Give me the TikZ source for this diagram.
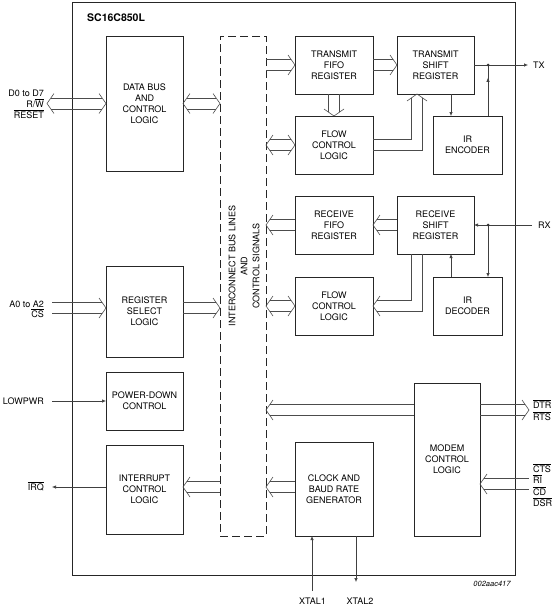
\documentclass[tikz,border=0pt]{standalone}
\usepackage{fontspec}
\setmainfont{TeX Gyre Heros}
\usetikzlibrary{calc,positioning,arrows.meta}
\tikzset{
  block/.style={rectangle, draw=black!85, line width=0.9pt, outer sep=0pt, inner sep=1pt,
                align=center, font=\fontsize{9}{11}\selectfont},
  busbox/.style={block, dash pattern=on 8pt off 4pt},
  bus/.style={draw=black!70, line width=0.6pt},
  sig/.style={draw=black!75, line width=0.6pt, -{Latex[length=4pt,width=3.4pt]}},
  wire/.style={draw=black!75, line width=0.6pt},
  lbl/.style={font=\fontsize{9}{11}\selectfont, inner sep=0pt},
  dot/.style={circle, fill=black!80, inner sep=0pt, minimum size=3pt}
}
\newcommand\ovl[1]{$\overline{\mbox{#1}}$}
% hollow heads of the bus arrows
\newcommand\headE[1]{\draw[bus] ([xshift=-7pt,yshift=10pt]#1) -- (#1) -- ([xshift=-7pt,yshift=-10pt]#1);}
\newcommand\headW[1]{\draw[bus] ([xshift=7pt,yshift=10pt]#1) -- (#1) -- ([xshift=7pt,yshift=-10pt]#1);}
\newcommand\headN[1]{\draw[bus] ([xshift=-10pt,yshift=-7pt]#1) -- (#1) -- ([xshift=10pt,yshift=-7pt]#1);}
\newcommand\headS[1]{\draw[bus] ([xshift=-10pt,yshift=7pt]#1) -- (#1) -- ([xshift=10pt,yshift=7pt]#1);}
% bus shaft, left point first
\newcommand\shaftH[4]{\draw[bus] ([xshift=#3,yshift=5.5pt]#1) -- ([xshift=-#4,yshift=5.5pt]#2)
  ([xshift=#3,yshift=-5.5pt]#1) -- ([xshift=-#4,yshift=-5.5pt]#2);}
\newcommand\busR[2]{\shaftH{#1}{#2}{0pt}{3.85pt}\headE{#2}}
\newcommand\busL[2]{\shaftH{#1}{#2}{3.85pt}{0pt}\headW{#1}}
\newcommand\busLR[2]{\shaftH{#1}{#2}{3.85pt}{3.85pt}\headW{#1}\headE{#2}}

\begin{document}
\begin{tikzpicture}[x=1pt,y=-1pt]
  \useasboundingbox (0,0) rectangle (559,608);

  % Chip outline and title.
  \node[block, minimum width=443pt, minimum height=573pt] (chip) at (293.5,288.5) {};
  \node[lbl, anchor=west] (title) at (87,18) {\bfseries\fontsize{10.5}{12}\selectfont SC16C850L};

  % Left column blocks.
  \node[block, minimum width=77pt, minimum height=135pt] (databus) at (144.5,103.5) {DATA BUS\\AND\\CONTROL\\LOGIC};
  \node[block, minimum width=77pt, minimum height=91pt] (regsel) at (144.5,311.5) {REGISTER\\SELECT\\LOGIC};
  \node[block, minimum width=77pt, minimum height=58pt] (powerdown) at (144.5,401) {POWER-DOWN\\CONTROL};
  \node[block, minimum width=77pt, minimum height=89pt] (interrupt) at (144.5,489.5) {INTERRUPT\\CONTROL\\LOGIC};

  % Interconnect bus.
  \node[busbox, minimum width=46pt, minimum height=500pt] (bus) at (243,286) {};
  \node[lbl, rotate=90, align=center, font=\fontsize{9}{12}\selectfont] (buslbl) at (244,266)
    {INTERCONNECT BUS LINES\\AND\\CONTROL SIGNALS};

  % Transmit path.
  \node[block, minimum width=78pt, minimum height=58pt] (txfifo) at (334,65) {TRANSMIT\\FIFO\\REGISTER};
  \node[block, minimum width=77pt, minimum height=58pt] (txshift) at (435.5,65) {TRANSMIT\\SHIFT\\REGISTER};
  \node[block, minimum width=78pt, minimum height=58pt] (txflow) at (334,145) {FLOW\\CONTROL\\LOGIC};
  \node[block, minimum width=69pt, minimum height=58pt] (irenc) at (467.5,145) {IR\\ENCODER};

  % Receive path.
  \node[block, minimum width=78pt, minimum height=58pt] (rxfifo) at (334,225) {RECEIVE\\FIFO\\REGISTER};
  \node[block, minimum width=77pt, minimum height=58pt] (rxshift) at (435.5,225) {RECEIVE\\SHIFT\\REGISTER};
  \node[block, minimum width=78pt, minimum height=58pt] (rxflow) at (334,306) {FLOW\\CONTROL\\LOGIC};
  \node[block, minimum width=69pt, minimum height=58pt] (irdec) at (467.5,306) {IR\\DECODER};

  % Modem and clock.
  \node[block, minimum width=66pt, minimum height=153pt] (modem) at (447,459.5) {MODEM\\CONTROL\\LOGIC};
  \node[block, minimum width=78pt, minimum height=94pt] (clock) at (334,489) {CLOCK AND\\BAUD RATE\\GENERATOR};

  % Free ends and bus taps.
  \coordinate (dpin) at (47,103.5);
  \coordinate (apin) at (52,308);
  \coordinate (lowpwr) at (52,401);
  \coordinate (irq) at (52,487);
  \coordinate (tx) at (528,65);
  \coordinate (txdot) at (488,65);
  \coordinate (rx) at (532,225);
  \coordinate (rxdot) at (488,225);
  \coordinate (dtr) at (529,410);
  \coordinate (cts) at (529,484);
  \coordinate (xtal1) at (312,591);
  \coordinate (xtal2) at (356,582);
  \coordinate (bdata) at (bus.west |- dpin);
  \coordinate (ireg) at (regsel.west |- apin);
  \coordinate (oreg) at (regsel.east |- apin);
  \coordinate (breg) at (bus.west |- apin);
  \coordinate (iint) at (interrupt.east |- irq);
  \coordinate (oint) at (interrupt.west |- irq);
  \coordinate (bint) at (bus.west |- irq);
  \coordinate (btxf) at (bus.east |- txfifo.west);
  \coordinate (btxc) at (bus.east |- txflow.west);
  \coordinate (brxf) at (bus.east |- rxfifo.west);
  \coordinate (brxc) at (bus.east |- rxflow.west);
  \coordinate (bmod) at (bus.east |- dtr);
  \coordinate (mw) at (modem.west |- dtr);
  \coordinate (me) at (modem.east |- dtr);
  \coordinate (mc) at (modem.east |- cts);
  \coordinate (bclk) at (bus.east |- irq);
  \coordinate (clkw) at (clock.west |- irq);
  \coordinate (txtip) at ($(txshift.south)+(-18.5,0)$);
  \coordinate (rxtap) at ($(rxshift.south)+(-18.5,0)$);
  \coordinate (encin) at ($(txshift.south)+(15.5,0)$);
  \coordinate (decout) at ($(rxshift.south)+(15.5,0)$);

  % Bus arrows, left side.
  \busLR{dpin}{databus.west}
  \busLR{databus.east}{bdata}
  \busR{apin}{ireg}
  \busR{oreg}{breg}
  \busL{iint}{bint}

  % Bus arrows, right side.
  \busR{btxf}{txfifo.west}
  \busR{txfifo.east}{txshift.west}
  \busLR{btxc}{txflow.west}
  \busL{brxf}{rxfifo.west}
  \busL{rxfifo.east}{rxshift.west}
  \busLR{brxc}{rxflow.west}
  \busL{bmod}{mw}
  \busR{me}{dtr}
  \busL{mc}{cts}
  \busL{bclk}{clkw}

  % FIFO to flow control.
  \draw[bus] ([xshift=-5.5pt]txfifo.south) -- ([xshift=-5.5pt,yshift=3.85pt]txflow.north)
             ([xshift=5.5pt]txfifo.south) -- ([xshift=5.5pt,yshift=3.85pt]txflow.north);
  \headS{txflow.north}

  % Flow control to transmit shift register.
  \draw[bus] ([yshift=5.5pt]txflow.east) -| ([xshift=-5.5pt,yshift=-3.85pt]txtip);
  \draw[bus] ([yshift=-5.5pt]txflow.east) -| ([xshift=5.5pt,yshift=-3.85pt]txtip);
  \headN{txtip}

  % Receive shift register to flow control.
  \draw[bus] ([xshift=-5.5pt]rxtap) |- ([xshift=3.85pt,yshift=5.5pt]rxflow.east);
  \draw[bus] ([xshift=5.5pt]rxtap) |- ([xshift=3.85pt,yshift=-5.5pt]rxflow.east);
  \headW{rxflow.east}

  % Serial signals.
  \draw[sig] (txshift.east) -- (tx);
  \draw[sig] (encin) -- (encin |- irenc.north);
  \draw[wire] (irenc.north -| txdot) -- (txdot);
  \draw[sig] (irenc.north -| txdot) -- ($(irenc.north -| txdot)!0.75!(txdot)$);
  \node[dot] (txjoin) at (txdot) {};
  \draw[sig] (rx) -- (rxshift.east);
  \draw[sig] (rxdot) -- (rxdot |- irdec.north);
  \node[dot] (rxjoin) at (rxdot) {};
  \draw[sig] (decout |- irdec.north) -- (decout);
  \draw[sig] (lowpwr) -- (powerdown.west);
  \draw[sig] (oint) -- (irq);
  \draw[sig] (xtal1) -- (xtal1 |- clock.south);
  \draw[sig] (xtal2 |- clock.south) -- (xtal2);

  % Pin labels.
  \node[lbl, anchor=base east] (dlbl) at (44,96) {D0 to D7};
  \node[lbl, anchor=base east] (rwlbl) at (44,107.5) {R/\ovl{W}};
  \node[lbl, anchor=base east] (rstlbl) at (44,118) {\ovl{RESET}};
  \node[lbl, anchor=base east] (alabel) at (44,307) {A0 to A2};
  \node[lbl, anchor=base east] (cslbl) at (44,317.5) {\ovl{CS}};
  \node[lbl, anchor=base east] (lowlbl) at (44,404) {LOWPWR};
  \node[lbl, anchor=base east] (irqlbl) at (44,490) {\ovl{IRQ}};
  \node[lbl, anchor=base west] (txlbl) at (533,68.5) {TX};
  \node[lbl, anchor=base west] (rxlbl) at (538,228.5) {RX};
  \node[lbl, anchor=base west] (dtrlbl) at (533,408.5) {\ovl{DTR}};
  \node[lbl, anchor=base west] (rtslbl) at (533,420) {\ovl{RTS}};
  \node[lbl, anchor=base west] (ctslbl) at (533,472) {\ovl{CTS}};
  \node[lbl, anchor=base west] (rilbl) at (533,483.5) {\ovl{RI}};
  \node[lbl, anchor=base west] (cdlbl) at (533,495) {\ovl{CD}};
  \node[lbl, anchor=base west] (dsrlbl) at (533,506.5) {\ovl{DSR}};
  \node[lbl, anchor=base] (x1lbl) at (312.5,604) {XTAL1};
  \node[lbl, anchor=base] (x2lbl) at (360,604) {XTAL2};
  \node[lbl, anchor=base, font=\itshape\fontsize{7.5}{9}\selectfont] (figid) at (492,586) {002aac417};
\end{tikzpicture}
\end{document}
